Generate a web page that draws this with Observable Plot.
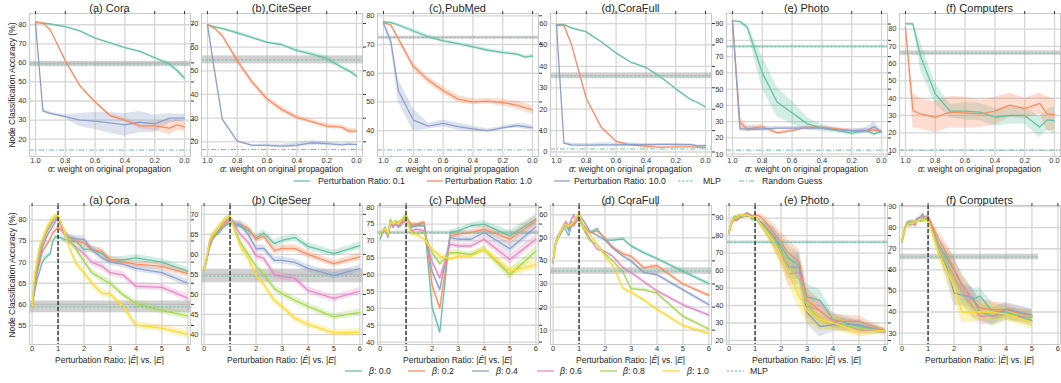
<!DOCTYPE html>
<html><head><meta charset="utf-8">
<script src="https://cdn.jsdelivr.net/npm/d3@7"></script>
<script src="https://cdn.jsdelivr.net/npm/@observablehq/plot@0.6"></script>
<style>
body{margin:0;background:#fff;font-family:"Liberation Sans",Arial,sans-serif;}
#fig{position:relative;width:1061px;height:383px;overflow:hidden;background:#fff;}
.abs{position:absolute;white-space:nowrap;color:#262626;line-height:1;}
.title{font-size:11px;transform:translate(-50%,-50%);}
.xl{font-size:8.5px;transform:translate(-50%,-50%);}
.yl{font-size:8.5px;transform:translate(-50%,-50%) rotate(-90deg);}
.lt{font-size:8.7px;transform:translate(0,-50%);}
svg.sw{position:absolute;overflow:visible;}
</style></head><body><div id="fig"></div>
<script>
// ---------------- data ----------------
const datasets = ["(a) Cora","(b) CiteSeer","(c) PubMed","(d) CoraFull","(e) Photo","(f) Computers"];
const ratioLabels = ["Perturbation Ratio: 0.1","Perturbation Ratio: 1.0","Perturbation Ratio: 10.0"];
const betaLabels = ["0.0","0.2","0.4","0.6","0.8","1.0"];
const mlpMean = [59.4, 54.6, 72.4, 35.6, 76.1, 66.1];
const mlpStd  = [1.4, 1.7, 0.5, 1.4, 0.8, 1.3];
const randomGuess = [14.3, 16.7, 33.3, 1.4, 12.5, 10.0];

// top row: x = alpha
const alphaX = [1.0,0.95,0.9,0.8,0.7,0.6,0.5,0.4,0.3,0.2,0.1,0.05,0.0];
const alphaTicks = [1.0,0.8,0.6,0.4,0.2,0.0];
const coraTop = [
  [81,80.8,80.4,79,76.7,73,70.5,68,66,62.7,59.3,56,52],
  [81.5,81,77.2,61.2,47.8,39.5,32.4,30,27,27,25.8,27.5,26.5],
  [81,34.8,33.5,31.8,30,29.5,28.5,27.5,29,28,31,31,31]];
const coraTopErr = [
  [0.3,0.3,0.3,0.4,0.5,0.5,0.5,0.5,0.5,0.7,1.0,1.3,1.2],
  [0.3,0.3,0.5,0.6,0.7,0.8,0.8,1.0,1.5,2.5,3.5,3.0,2.5],
  [0.3,1.0,0.8,1.0,3.5,4.5,5.5,6.0,5.5,4.5,2.5,2.0,2.0]];
const citeTop = [
  [69.5,68.5,67.8,66,64,62,61,58.5,57,55.2,51.5,50,47.8],
  [69.5,67.8,64.8,54.3,45.2,38.1,33.6,30.3,28.5,26.6,26.2,24.5,24.5],
  [69.5,49,29.5,20.3,18.5,18.5,18.2,18.6,19.6,19.2,18.7,19,18.8]];
const citeTopErr = [
  [0.3,0.4,0.6,0.8,0.6,0.5,0.6,0.8,0.9,1.2,1.0,0.9,0.8],
  [0.3,0.5,0.8,1.2,1.2,1.2,1.2,1.0,1.0,1.0,0.9,1.2,1.0],
  [0.3,1.0,0.6,0.4,0.3,0.6,0.8,0.9,1.0,0.8,0.6,0.6,0.6]];
const pubTop = [
  [77.9,77.6,76.8,74.7,72.7,71.3,70.3,69.2,68,67.2,66.6,65.6,66],
  [77.5,76.8,72,62.4,57.6,54,51,50,50.3,49.8,48.8,48,47.2],
  [77.5,71,53.9,43.7,41.6,42.5,41.4,40.6,40,41,41.8,41.4,41]];
const pubTopErr = [
  [0.4,0.4,0.5,0.8,0.6,0.5,0.6,0.6,0.6,0.5,0.5,0.6,0.6],
  [0.4,0.5,1.0,1.2,1.3,1.3,1.2,1.0,1.0,1.2,1.4,1.5,1.6],
  [0.4,1.5,4.0,4.0,1.0,1.2,1.3,1.0,0.6,0.6,0.8,1.0,0.8]];
const coraFullTop = [
  [59.5,59.5,58,56.1,51.5,46.2,41.9,39.5,35,29.5,24.5,23,21],
  [59,59.2,50.4,25.1,11.6,5,3.2,2.6,2.2,2.4,2.4,2.2,2.2],
  [59.5,4.2,3.3,3.2,3.3,3.3,3.5,3.4,3.5,3.5,3.4,2.8,3.0]];
const coraFullTopErr = [
  [0.3,0.3,0.4,0.4,0.4,0.4,0.4,0.4,0.4,0.4,0.4,0.4,0.4],
  [0.3,0.4,0.5,0.6,0.5,0.4,0.3,0.3,0.3,0.3,0.3,0.3,0.3],
  [0.3,0.5,0.8,0.8,1.0,1.0,0.8,0.6,0.5,0.5,0.5,0.5,0.5]];
const photoTop = [
  [92,91.5,88,60,42,35.5,28.8,26,24.5,23,24.5,22.5,24],
  [92,29.7,25.5,26.9,23.1,24.5,26.5,26.5,25.5,24.5,24.5,25,24],
  [92,25.6,25.5,25.5,26,26,26,26,25,24.5,24.5,27,23.5]];
const photoTopErr = [
  [0.4,0.5,1.5,10,9,7,4,2,1.5,1.5,1.5,1.5,1],
  [0.4,3,2,1.5,1,1,1,1,1,1,1,1,1],
  [0.4,1.5,1.5,1.5,1,1,1,1,1,1,2,3,1]];
const compTop = [
  [83,83,64.5,42.5,32.5,32.5,32,29,30,30,23.3,27.5,27],
  [81,32.9,31,29,32,31.5,31,32.5,36,34,37,31,30.5]];
const compTopErr = [
  [0.5,1,8,6,4,5,5,5,5,5,6,6,8],
  [0.5,10,9,9,9,9,8,8,7,6,6,10,9]];

// bottom row: x = perturbation ratio
const ratioX = [0,0.1,0.2,0.3,0.4,0.5,0.6,0.7,0.8,0.9,1.0,1.2,1.4,1.7,2.0,2.3,2.7,3.0,3.5,4.0,5.0,6.0];
const ratioXComp = [0,0.1,0.2,0.3,0.4,0.5,0.6,0.7,0.8,0.9,1.0,1.2,1.4,1.7,2.0,2.3,2.7,3.0,3.5,4.0,5.0];
const ratioTicks = [0,1,2,3,4,5,6];
const coraBot = [
  [59.5,63,66,68,70,71,71.5,72,75,76,76,75.5,75,75,73,73,72,70.5,70.5,71,70,67.8],
  [59.5,64,67.5,70,72.5,73.5,74.5,75.5,77,77.5,78.3,77,76,75,74.5,73,72.5,70.5,70,69.5,69,67.3],
  [59.5,64.5,68,71,73.5,75,76.5,77.5,78.5,79.5,80.3,77.5,76,75.5,75.4,73,71,70,69.5,68.5,67.5,65],
  [59.5,65,69,72,74.5,76,77.5,78.5,79.5,80,80.5,77,75,73.5,72,70,69,67.5,67,64.3,64,61.5],
  [59.5,66,70,73,75,76.5,78,79,80,80.5,81,78,75.5,73,70.2,67.5,66,65,62.3,60.2,58.5,57.3],
  [59.5,67,71,74,75.5,77,78.5,79.5,80.5,81,81.2,78,74,69.6,67.5,65,62.6,62.5,59.5,55.1,54.4,52.9]];
const coraBotErr = [0.3,0.5,0.6,0.6,0.6,0.6,0.6,0.6,0.6,0.6,0.5,0.6,0.7,0.8,0.8,0.8,0.9,0.8,0.8,0.8,0.8,0.9];
const citeBot = [
  [56.2,58.5,61.5,63.5,64.5,65,65.5,66.5,67,67.5,67.8,67.5,67,66,64.1,65.3,62.7,63.5,64.2,62,60.2,62.2],
  [56.2,58.5,61.5,63.5,64.5,65.5,66,67,67.5,68,68.5,67.5,67.5,66.5,63.8,64.5,61,61.5,61.5,60,57.7,59.4],
  [56.2,58.5,62,64,65,65.5,66.5,67.5,68,68.5,69,67.5,67.5,65,61.4,61.5,58.5,58.5,58,56.5,54.7,56.5],
  [56.2,58.5,62.5,64,65,66,66.5,67.5,68,68.5,69,67,65,63,59.7,59,55,54.5,54,51,49,50.8],
  [56.2,59,63,64.5,65,66,67,67.5,68.5,69,69.5,66,63,60,57,55,51.5,50.2,48.5,47,44.4,45.5],
  [56.2,59,63,64.5,65.5,66,67,68,68.5,69,69.5,65.5,62,59,54.8,52.5,48.5,47,44,42.5,40.4,40.6]];
const citeBotErr = [0.4,0.6,0.7,0.7,0.7,0.7,0.7,0.7,0.7,0.7,0.7,0.8,0.8,0.9,0.9,0.9,0.9,0.9,0.9,0.9,0.8,0.9];
const pubBot = [
  [70.5,72.5,73.5,71.5,76,74,75,74,74.5,76,77.5,74.5,74.5,75.5,50.5,43,72.5,73,74.5,75,71.5,76.5],
  [72,72.5,73.5,71,75.5,74.5,75.5,75,75.5,76,77,75,75,75.5,57,50,71.5,72,72.5,73.5,70.5,76],
  [72,72.5,74,71.5,75,74.5,75,74.5,75,75.5,76,74,74.5,74.5,61,55.6,71,70.5,70.5,72.5,67.7,74.2],
  [72,73,73.5,72,75,74,75.5,74.5,75,75.5,76,73,73.5,73,64,59,69,68.5,68.5,70.5,64.5,70.5],
  [72,73,74,72,76.5,75,76,75.5,76,77,78,73,72,72.5,66.5,63.3,66.5,66.5,66,67.5,60,67],
  [72,73,73.5,72,75.5,75,75.5,75,76,76.5,77,72,72,70.5,67.5,65.5,64.7,65.5,65.5,67.5,61,63]];
const pubBotErr = [0.3,0.4,0.4,0.4,0.4,0.4,0.4,0.4,0.4,0.4,0.5,0.5,0.5,0.5,0.8,0.8,0.8,0.8,0.8,1.0,1.5,1.5];
const coraFullBot = [
  [39,48,50,52,55,53,51,55,57,57,58,55,52,54,49,49,49.5,46.5,43.5,41,35.5,30.2],
  [40,47,50,53,55,57,54,56,55,57,59,55,52,53,50,46,43,42,37,38,30,25.1],
  [40,48,50,52,54,56,53,57,56,58,60,57,53,51,49,45.5,42,40,35,34,27.5,21],
  [40,48,51,53,55,57,55,58,60,57,58,54,50,45,44,42,37,35,31,27,21,16.5],
  [40,48,51,53,54,55,55,56,57,58,58,53,49,47,43,40,35,28,27.5,26,16,10.5],
  [40,48,50,53,55,56,55,56,57,59,61,54,52,47,42,38,28,26.5,23,19,12,8.5]];
const coraFullBotErr = [0.4,0.5,0.5,0.5,0.5,0.5,0.5,0.5,0.5,0.5,0.5,0.6,0.6,0.6,0.6,0.7,0.7,0.8,0.8,0.8,0.8,0.8];
const photoBot = [
  [82,87,91,90,91,90.5,91,91,91.5,89,90,87,84.5,80,74,67,63,45,43,32,28,25.5],
  [81,87,89,88.5,90,91,91.5,92,92,91,92,91,88,82,76,70,65,43,37,31,31,25.5],
  [82,88,90,89,90.5,91,92,93,92,91,91,88,85,80,72,62,62,36,28,29,29,25],
  [82,88,90,90,91,91,92,91,92,90,91,87,84,78,70,58,59,40,37,31,26,25],
  [82,88,91,91,92,91,91,92,91,89,91,87,84,78,71,63,55,40,32,30,27,25.5],
  [82,88,90,90,91.5,92,91.5,92,91,90.5,91,87,83,77,68,58,45,37,32,30,25,25.5]];
const photoBotErr = [0.5,0.6,0.6,0.6,0.6,0.6,0.6,0.6,0.6,0.6,0.8,1.5,3,5,6,7,7,7,6,4,3,1.5];
const compBot = [
  [73.5,79,82,81,83,82,84,83,85,84,85,79,72,66,60,53,46,47.5,40,40,36],
  [74,79,82.5,82,83,81,83.5,84,85,84.5,85.5,80,75,68,60,53,46,42,41,41,38],
  [73,79,82,83,82,83,84,85,86.5,84,85,78,70,62,49,48,47,40,38,41.5,38.5],
  [73.5,79,82,82,81.5,83,84,84,85,84,85,78,71,64,57,50,43,38,38,39,37.5],
  [74,79,82,82.5,83,82,83.5,84,83,85,84,77,70,63,56,48,42,40,37,39,38],
  [74,79,81,82,82,83,83,84,84,83,83,76,68,60,52,40,40,40,40,39,35]];
const compBotErr = [0.8,0.9,0.9,0.9,0.9,0.9,0.9,0.9,0.9,0.9,1,2,3,5,6,5,5,4,4,3,3];

const topSeries = [coraTop, citeTop, pubTop, coraFullTop, photoTop, compTop];
const topErr = [coraTopErr, citeTopErr, pubTopErr, coraFullTopErr, photoTopErr, compTopErr];
const botSeries = [coraBot, citeBot, pubBot, coraFullBot, photoBot, compBot];
const botErr = [coraBotErr, citeBotErr, pubBotErr, coraFullBotErr, photoBotErr, compBotErr];

const topYDom = [[10.9,85.9],[13.8,74.2],[31,80.8],[-2.1,64.7],[8.6,96.5],[6.3,89]];
const topYTicks = [[20,30,40,50,60,70,80],[20,30,40,50,60,70],[40,50,60,70,80],[0,10,20,30,40,50,60],[10,20,30,40,50,60,70,80,90],[10,20,30,40,50,60,70,80]];
const botYDom = [[50.5,83.4],[37.5,72.2],[39.3,80.5],[3.8,64],[17.7,97.2],[24.6,90.5]];
const botYTicks = [[55,60,65,70,75,80],[40,45,50,55,60,65,70],[40,45,50,55,60,65,70,75,80],[10,20,30,40,50,60],[20,30,40,50,60,70,80,90],[30,40,50,60,70,80,90]];

// ---------------- layout / style ----------------
const COLORS = ["#66c2a5","#fc8d62","#8da0cb","#e78ac3","#a6d854","#ffd92f"];
const FONT = '"Liberation Sans", Arial, sans-serif';
const frameLeft = [29, 201, 377, 550, 726, 899];
const FW = 161;
const fig = document.getElementById("fig");

function addText(html, x, y, cls) {
  const d = document.createElement("div");
  d.className = "abs " + cls;
  d.style.left = x + "px"; d.style.top = y + "px";
  d.innerHTML = html;
  fig.appendChild(d);
}

function panel(o) {
  const mL = 26, mR = 6, mT = 5, mB = 11;
  const marks = [
    Plot.gridY(o.yticks, {stroke: "#d6d6d6", strokeOpacity: 1, strokeWidth: 1.3}),
    Plot.gridX(o.xticks, {stroke: "#d6d6d6", strokeOpacity: 1, strokeWidth: 1.3}),
    Plot.rect([{x1: o.xdom[0], x2: o.mlpX2 ?? o.xdom[1], y1: o.mlp - o.mlpSd, y2: o.mlp + o.mlpSd}],
      {x1: "x1", x2: "x2", y1: "y1", y2: "y2", fill: "#a3a3a3", fillOpacity: 0.5})
  ];
  o.series.forEach((ys, i) => {
    const err = Array.isArray(o.err[0]) ? o.err[i] : o.err;
    const data = o.xs.map((x, j) => ({x, y: ys[j], lo: ys[j] - err[j], hi: ys[j] + err[j]}));
    marks.push(Plot.areaY(data, {x: "x", y1: "lo", y2: "hi", fill: COLORS[i], fillOpacity: 0.3}));
  });
  o.series.forEach((ys, i) => {
    const data = o.xs.map((x, j) => ({x, y: ys[j]}));
    marks.push(Plot.lineY(data, {x: "x", y: "y", stroke: COLORS[i], strokeWidth: 1.3}));
  });
  marks.push(Plot.ruleY([{y: o.mlp, x1: o.xdom[0], x2: o.mlpX2 ?? o.xdom[1]}],
    {y: "y", x1: "x1", x2: "x2", stroke: COLORS[0], strokeWidth: 0.9, strokeDasharray: "2.5,1.5"}));
  if (o.rg != null) marks.push(Plot.ruleY([o.rg], {stroke: COLORS[0], strokeWidth: 1, strokeDasharray: "5,2,1,2"}));
  if (o.vline != null) marks.push(Plot.ruleX([o.vline], {stroke: "#1a1a1a", strokeWidth: 1.2, strokeDasharray: "4,2"}));
  marks.push(
    Plot.frame({stroke: "#c9c9c9", strokeWidth: 1}),
    Plot.axisY(o.yticks, {anchor: "left", tickSize: 0, tickPadding: 3, label: null, fontSize: 7.5}),
    Plot.axisY(o.yticks, {anchor: "right", tickSize: 3, tickFormat: () => "", label: null, stroke: "#333"}),
    Plot.axisX(o.xticks, {anchor: "bottom", tickSize: 0, tickPadding: 1.5, tickFormat: o.xfmt, label: null, fontSize: 7.5}),
    Plot.axisX(o.xticks, {anchor: "top", tickSize: 3, tickFormat: () => "", label: null, stroke: "#333"})
  );
  const svg = Plot.plot({
    width: o.fw + mL + mR, height: o.fh + mT + mB,
    marginLeft: mL, marginRight: mR, marginTop: mT, marginBottom: mB,
    x: {domain: o.xdom}, y: {domain: o.ydom},
    style: {fontFamily: FONT, fontSize: "7.5px", color: "#333", background: "transparent", overflow: "visible"},
    marks
  });
  svg.style.position = "absolute";
  svg.style.left = (o.left - mL) + "px";
  svg.style.top = (o.top - mT) + "px";
  fig.appendChild(svg);
}

// top row
const TOP = 13, TH = 143;
datasets.forEach((name, k) => {
  panel({left: frameLeft[k], top: TOP, fw: FW, fh: TH,
    xdom: [1.04, -0.04], xticks: alphaTicks, xfmt: d3.format(".1f"), xs: alphaX,
    ydom: topYDom[k], yticks: topYTicks[k], series: topSeries[k], err: topErr[k],
    mlp: mlpMean[k], mlpSd: mlpStd[k], rg: randomGuess[k]});
  addText(name, frameLeft[k] + FW / 2, TOP - 5, "title");
  addText("<i>α</i>: weight on original propagation", frameLeft[k] + FW / 2, TOP + TH + 12.5, "xl");
});
// bottom row
const BOT = 205, BH = 139;
datasets.forEach((name, k) => {
  panel({left: frameLeft[k], top: BOT, fw: FW, fh: BH,
    xdom: [-0.1, 6.1], xticks: ratioTicks, xfmt: d3.format("d"), xs: k === 5 ? ratioXComp : ratioX,
    ydom: botYDom[k], yticks: botYTicks[k], series: botSeries[k], err: botErr[k],
    mlp: mlpMean[k], mlpSd: mlpStd[k], vline: 1, mlpX2: k === 5 ? 5.25 : null});
  addText(name, frameLeft[k] + FW / 2, BOT - 5.5, "title");
  addText("Perturbation Ratio: |<i>Ê</i>| vs. |<i>E</i>|", frameLeft[k] + FW / 2, BOT + BH + 16, "xl");
});
addText("Node Classification Accuracy (%)", 12, TOP + TH / 2, "yl");
addText("Node Classification Accuracy (%)", 12, BOT + BH / 2, "yl");

// legends
function swatch(x, y, len, color, dash) {
  const ns = "http://www.w3.org/2000/svg";
  const s = document.createElementNS(ns, "svg");
  s.setAttribute("class", "sw"); s.setAttribute("width", len); s.setAttribute("height", 4);
  s.style.left = x + "px"; s.style.top = (y - 2) + "px";
  const l = document.createElementNS(ns, "line");
  l.setAttribute("x1", 0); l.setAttribute("x2", len); l.setAttribute("y1", 2); l.setAttribute("y2", 2);
  l.setAttribute("stroke", color); l.setAttribute("stroke-width", dash ? 1 : 1.3);
  if (dash) l.setAttribute("stroke-dasharray", dash);
  s.appendChild(l); fig.appendChild(s);
}
const topLegX = [294, 427, 554, 678, 739];
const topLegT = [318, 445, 574, 703, 762];
ratioLabels.forEach((t, i) => { swatch(topLegX[i], 181, 16, COLORS[i]); addText(t, topLegT[i], 181, "lt"); });
swatch(topLegX[3], 181, 16, COLORS[0], "2.5,1.5"); addText("MLP", topLegT[3], 181, "lt");
swatch(topLegX[4], 181, 16, COLORS[0], "5,2,1,2"); addText("Random Guess", topLegT[4], 181, "lt");
const botLegX = [345, 408, 472, 537, 600, 663, 727];
const botLegT = [369, 432, 496, 560, 623, 687, 750];
betaLabels.forEach((t, i) => { swatch(botLegX[i], 371, 17, COLORS[i]); addText("<i>β</i>: " + t, botLegT[i], 371, "lt"); });
swatch(botLegX[6], 371, 17, COLORS[0], "2.5,1.5"); addText("MLP", botLegT[6], 371, "lt");
</script></body></html>
